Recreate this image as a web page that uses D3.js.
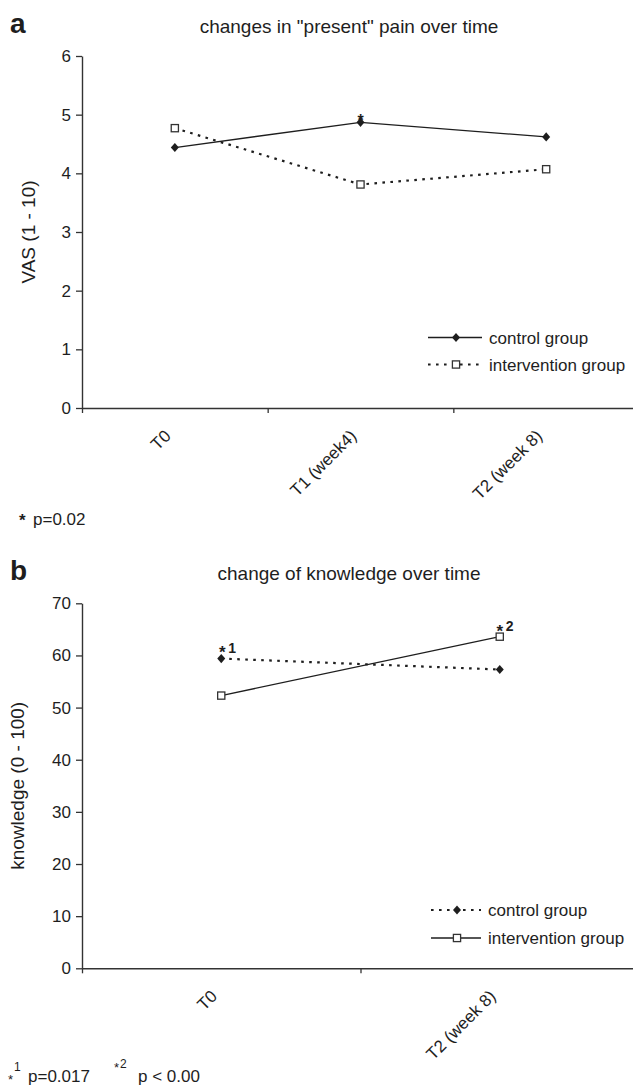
<!DOCTYPE html>
<html><head><meta charset="utf-8">
<script src="https://cdn.jsdelivr.net/npm/d3@7"></script>
<style>body{margin:0;background:#fff}svg{display:block;font-family:"Liberation Sans",Arial,Helvetica,sans-serif}</style>
</head><body><svg id="c" width="633" height="1090"></svg>
<script>
// ---- data ----
const catsA = ["T0", "T1 (week4)", "T2 (week 8)"];
const controlA = [4.44, 4.87, 4.62];
const interventionA = [4.77, 3.81, 4.07];
const ticksA = [0, 1, 2, 3, 4, 5, 6];

const catsB = ["T0", "T2 (week 8)"];
const controlB = [59.4, 57.3];
const interventionB = [52.3, 63.6];
const ticksB = [0, 10, 20, 30, 40, 50, 60, 70];

const seriesNames = ["control group", "intervention group"];

// ---- drawing ----
const svg = d3.select("#c");
const INK = "#1e1e1e", AX = "#333";
const diamondPath = "M0,-4.6L4,0L0,4.6L-4,0Z";

function marker(g, type, cx, cy) {
  if (type === "diamond") {
    g.append("path").attr("d", diamondPath).attr("transform", `translate(${cx},${cy})`).attr("fill", INK);
  } else {
    g.append("rect").attr("x", cx - 3.6).attr("y", cy - 3.6).attr("width", 7.2).attr("height", 7.2)
      .attr("fill", "#fff").attr("stroke", AX).attr("stroke-width", 1.3);
  }
}
function styleLine(sel, dotted) {
  if (dotted) sel.attr("stroke-width", 2.2).attr("stroke-dasharray", "2.6,5.4");
  else sel.attr("stroke-width", 1.3);
  return sel.attr("stroke", INK).attr("fill", "none");
}

function panel(o) {
  const g = svg.append("g");
  const x = d3.scaleBand().domain(o.cats).range([82, 639]);
  const xb = d3.scaleLinear().domain([0, o.cats.length]).range([82, 639]);
  const y = d3.scaleLinear().domain([0, o.ticks[o.ticks.length - 1]]).range([o.bottom, o.top]);
  const cx = c => x(c) + x.bandwidth() / 2;

  const ya = g.append("g").attr("transform", "translate(82,0)")
    .call(d3.axisLeft(y).tickValues(o.ticks).tickFormat(d3.format("d")).tickSize(6).tickSizeOuter(0).tickPadding(5));
  const xa = g.append("g").attr("transform", `translate(0,${o.bottom})`)
    .call(d3.axisBottom(xb).tickValues(d3.range(o.cats.length + 1)).tickSize(5).tickSizeOuter(0).tickFormat(""));
  [ya, xa].forEach(a => {
    a.select(".domain").attr("stroke", AX).attr("stroke-width", 1.4);
    a.selectAll(".tick line").attr("stroke", AX).attr("stroke-width", 1.3);
    a.selectAll(".tick text").attr("font-size", 17).attr("fill", INK).attr("font-family", null);
  });

  // category labels rotated
  g.selectAll(".cl").data(o.cats).enter().append("text")
    .attr("transform", d => `translate(${cx(d) - 3},${o.bottom + 29}) rotate(-45)`)
    .attr("text-anchor", "end").attr("font-size", 17).attr("fill", INK).text(d => d);

  // title, panel letter, y label
  g.append("text").attr("x", 349).attr("y", o.top - 23).attr("text-anchor", "middle")
    .attr("font-size", 19).attr("fill", INK).text(o.title);
  g.append("text").attr("x", 10).attr("y", o.top - 23).attr("font-size", 28).attr("font-weight", "bold")
    .attr("fill", INK).text(o.letter);
  g.append("text").attr("transform", `translate(${o.ylabX},${(o.top + o.bottom) / 2}) rotate(-90)`)
    .attr("text-anchor", "middle").attr("font-size", 19).attr("fill", INK).text(o.ylab);

  // series
  const line = d3.line().x((d, i) => cx(o.cats[i])).y(d => y(d));
  o.series.forEach(s => {
    styleLine(g.append("path").attr("d", line(s.values)), s.dotted);
  });
  o.series.forEach(s => {
    s.values.forEach((v, i) => marker(g, s.shape, cx(o.cats[i]), y(v)));
  });

  // legend
  o.series.forEach((s, k) => {
    const ly = o.legY[k];
    styleLine(g.append("line").attr("x1", o.legX[0]).attr("x2", o.legX[1]).attr("y1", ly).attr("y2", ly), s.dotted);
    marker(g, s.shape, (o.legX[0] + o.legX[1]) / 2 + 1, ly);
    g.append("text").attr("x", o.legX[1] + 7).attr("y", ly).attr("dy", "0.36em")
      .attr("font-size", 17).attr("fill", INK).text(s.name);
  });
  return { x, y, cx, g };
}

// Panel a
const A = panel({
  letter: "a", title: 'changes in "present" pain over time', ylab: "VAS (1 - 10)", ylabX: 35,
  cats: catsA, ticks: ticksA, top: 56, bottom: 408,
  series: [
    { name: seriesNames[0], values: controlA, shape: "diamond", dotted: false },
    { name: seriesNames[1], values: interventionA, shape: "square", dotted: true }
  ],
  legY: [337.5, 364.5], legX: [428, 482]
});
A.g.append("text").attr("x", A.cx(catsA[1])).attr("y", A.y(controlA[1]) + 4).attr("text-anchor", "middle")
  .attr("font-size", 16).attr("font-weight", "bold").attr("fill", INK).text("*");
A.g.append("text").attr("x", 19).attr("y", 526).attr("font-size", 17).attr("font-weight", "bold").attr("fill", INK).text("*");
A.g.append("text").attr("x", 33).attr("y", 525).attr("font-size", 17).attr("fill", INK).text("p=0.02");

// Panel b
const B = panel({
  letter: "b", title: "change of knowledge over time", ylab: "knowledge (0 - 100)", ylabX: 24,
  cats: catsB, ticks: ticksB, top: 603.3, bottom: 968.3,
  series: [
    { name: seriesNames[0], values: controlB, shape: "diamond", dotted: true },
    { name: seriesNames[1], values: interventionB, shape: "square", dotted: false }
  ],
  legY: [910, 938], legX: [431, 481]
});
// significance marks
B.g.append("text").attr("x", B.cx(catsB[0]) + 1).attr("y", B.y(controlB[0]) - 1).attr("text-anchor", "middle")
  .attr("font-size", 17).attr("font-weight", "bold").attr("fill", INK).text("*");
B.g.append("text").attr("x", B.cx(catsB[0]) + 7).attr("y", B.y(controlB[0]) - 6)
  .attr("font-size", 14).attr("font-weight", "bold").attr("fill", INK).text("1");
B.g.append("text").attr("x", B.cx(catsB[1])).attr("y", B.y(interventionB[1]) + 0.5).attr("text-anchor", "middle")
  .attr("font-size", 17).attr("font-weight", "bold").attr("fill", INK).text("*");
B.g.append("text").attr("x", B.cx(catsB[1]) + 6).attr("y", B.y(interventionB[1]) - 6)
  .attr("font-size", 14).attr("font-weight", "bold").attr("fill", INK).text("2");
// footnote
const fn = B.g.append("g").attr("fill", INK);
fn.append("text").attr("x", 8).attr("y", 1084).attr("font-size", 13).text("*");
fn.append("text").attr("x", 14).attr("y", 1071).attr("font-size", 12).text("1");
fn.append("text").attr("x", 28).attr("y", 1082).attr("font-size", 17).text("p=0.017");
fn.append("text").attr("x", 114).attr("y", 1072).attr("font-size", 13).text("*");
fn.append("text").attr("x", 120).attr("y", 1068).attr("font-size", 12).text("2");
fn.append("text").attr("x", 138).attr("y", 1082).attr("font-size", 17).text("p < 0.00");
</script></body></html>
